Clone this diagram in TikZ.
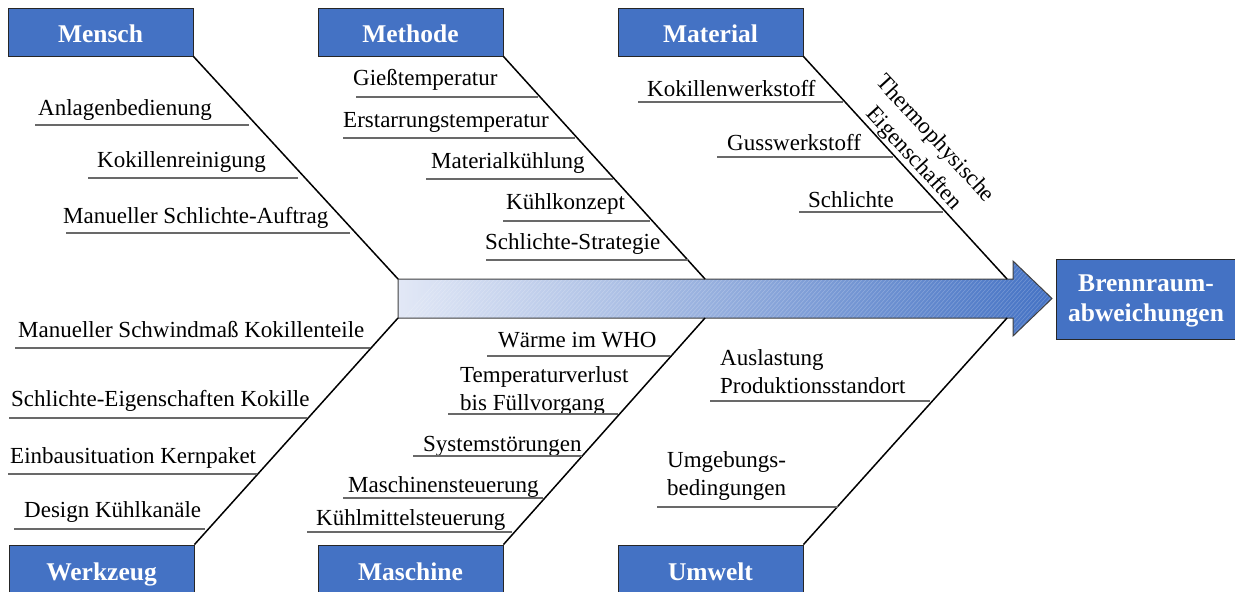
\documentclass[tikz,border=0pt]{standalone}
\usepackage{fontspec}
\setmainfont{Liberation Serif}
\definecolor{boxblue}{RGB}{68,114,196}
\definecolor{arrowlight}{RGB}{226,232,246}
\definecolor{arrowdark}{RGB}{68,114,196}
\definecolor{ulgray}{RGB}{105,105,105}
\begin{document}
\begin{tikzpicture}[x=1pt,y=-1pt,
  catbox/.style={draw=black!85, line width=0.9pt, fill=boxblue, text=white,
    font=\fontsize{25.5}{30}\selectfont\bfseries, minimum width=185pt,
    minimum height=48pt, inner sep=0pt, text height=20pt, text depth=0pt},
  item/.style={font=\fontsize{23}{28}\selectfont, inner sep=0pt, anchor=base west, align=left},
  uline/.style={draw=ulgray, line width=1.2pt},
  bone/.style={draw=black, line width=1.5pt},
]
\useasboundingbox (0,0) rectangle (1235,592);

% spine arrow
\coordinate (a1) at (398,279);
\coordinate (a2) at (1013,279);
\coordinate (a3) at (1013,261);
\coordinate (tip) at (1052,298.5);
\coordinate (a5) at (1013,336);
\coordinate (a6) at (1013,318);
\coordinate (a7) at (398,318);
\path[left color=arrowlight, right color=arrowdark]
  (a1) -- (a2) -- (a3) -- (tip) -- (a5) -- (a6) -- (a7) -- cycle;
\begin{scope}
  \clip (a1) -- (a2) -- (a3) -- (tip) -- (a5) -- (a6) -- (a7) -- cycle;
  \foreach \i in {0,4,...,720}
    \draw[white, opacity=0.22, line width=0.6pt] (380+\i,345) -- (460+\i,255);
\end{scope}
\draw[draw=black!75, line width=1pt]
  (a1) -- (a2) -- (a3) -- (tip) -- (a5) -- (a6) -- (a7) -- cycle;

% result box
\node[draw=black!85, line width=0.9pt, fill=boxblue, minimum width=180pt,
  minimum height=80pt, inner sep=0pt] (res) at (1146,299) {};
\node[text=white, font=\fontsize{25.5}{30}\selectfont\bfseries, align=center,
  inner sep=0pt, yshift=-2pt] (reslabel) at (res.center) {Brennraum-\\abweichungen};

% category boxes
\node[catbox] (mensch) at (100.5,32) {Mensch};
\node[catbox] (methode) at (410.5,32) {Methode};
\node[catbox] (material) at (710.5,32) {Material};
\node[catbox, minimum height=50pt] (werkzeug) at (101.5,570) {Werkzeug};
\node[catbox, minimum height=50pt] (maschine) at (410.5,570) {Maschine};
\node[catbox, minimum height=50pt] (umwelt) at (710.5,570) {Umwelt};

% bones
\draw[bone] (mensch.south east) -- (a1);
\draw[bone] (methode.south east) -- (705,279);
\draw[bone] (material.south east) -- (1007,279);
\draw[bone] (werkzeug.north east) -- (a7);
\draw[bone] (maschine.north east) -- (705,318);
\draw[bone] (umwelt.north east) -- (1007,318);

% Mensch
\node[item] (m1) at (38,115) {Anlagenbedienung};
\draw[uline] (35,125) -- (249,125);
\node[item] (m2) at (97,167) {Kokillenreinigung};
\draw[uline] (88,178) -- (298,178);
\node[item] (m3) at (63,223) {Manueller Schlichte-Auftrag};
\draw[uline] (66,233) -- (350,233);

% Methode
\node[item] (t1) at (353,85) {Gießtemperatur};
\draw[uline] (356,97) -- (538,97);
\node[item] (t2) at (343,127) {Erstarrungstemperatur};
\draw[uline] (343,138) -- (575,138);
\node[item] (t3) at (431,168) {Materialkühlung};
\draw[uline] (426,179) -- (613,179);
\node[item] (t4) at (506,209) {Kühlkonzept};
\draw[uline] (503,221) -- (650,221);
\node[item] (t5) at (485,249) {Schlichte-Strategie};
\draw[uline] (486,260) -- (688,260);

% Material
\node[item] (w1) at (647,96) {Kokillenwerkstoff};
\draw[uline] (638,102) -- (843,102);
\node[item] (w2) at (727,150) {Gusswerkstoff};
\draw[uline] (717,157) -- (893,157);
\node[item] (w3) at (808,207) {Schlichte};
\draw[uline] (799,212) -- (943,212);
\node[font=\fontsize{23}{29}\selectfont, align=center, inner sep=0pt, rotate=-47.5] (thermo) at (924,149) {Thermophysische\\Eigenschaften};

% Werkzeug
\node[item] (k1) at (18,337) {Manueller Schwindmaß Kokillenteile};
\draw[uline] (15,348) -- (370,348);
\node[item] (k2) at (11,406) {Schlichte-Eigenschaften Kokille};
\draw[uline] (9,418) -- (307,418);
\node[item] (k3) at (10,463) {Einbausituation Kernpaket};
\draw[uline] (8,474) -- (257,474);
\node[item] (k4) at (24,517) {Design Kühlkanäle};
\draw[uline] (14,529) -- (205,529);

% Maschine
\node[item] (s1) at (498,347) {Wärme im WHO};
\draw[uline] (487,356) -- (670,356);
\node[item] (s2) at (460,410) {Temperaturverlust\\bis Füllvorgang};
\draw[uline] (448,414) -- (618,414);
\node[item] (s3) at (423,451) {Systemstörungen};
\draw[uline] (413,456) -- (582,456);
\node[item] (s4) at (348,492) {Maschinensteuerung};
\draw[uline] (343,498) -- (543,498);
\node[item] (s5) at (316,525) {Kühlmittelsteuerung};
\draw[uline] (307,532) -- (512,532);

% Umwelt
\node[item] (u1) at (720,393) {Auslastung\\Produktionsstandort};
\draw[uline] (710,401) -- (930,401);
\node[item] (u2) at (667,495) {Umgebungs-\\bedingungen};
\draw[uline] (657,507) -- (838,507);
\end{tikzpicture}
\end{document}
